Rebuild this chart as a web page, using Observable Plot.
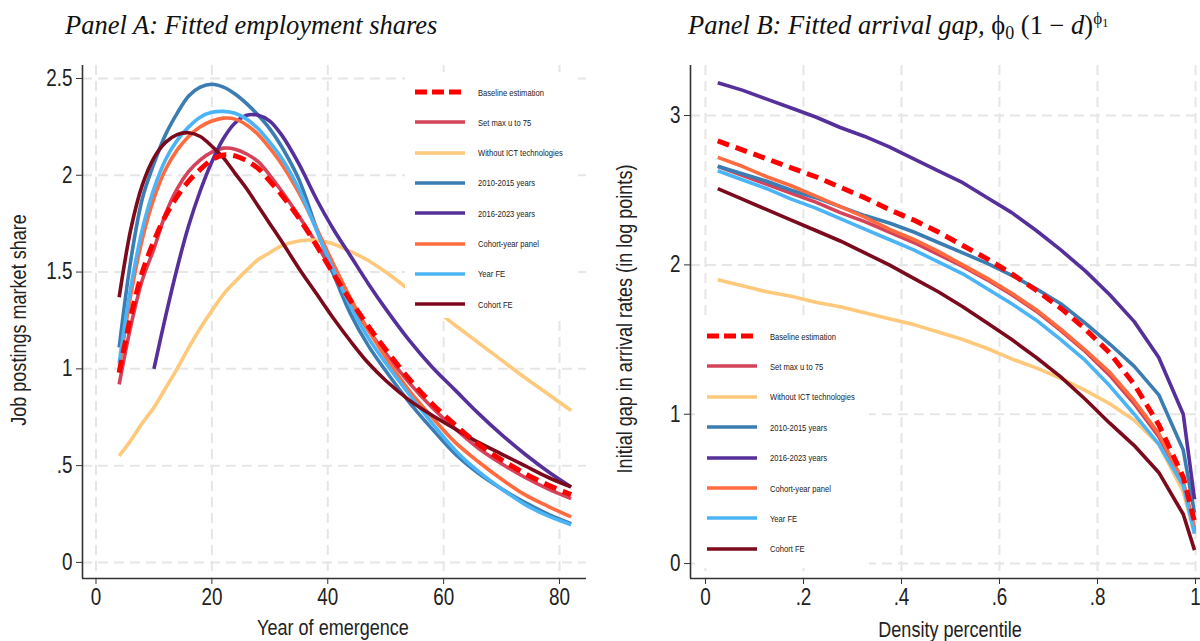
<!DOCTYPE html>
<html><head><meta charset="utf-8">
<script src="https://cdn.jsdelivr.net/npm/d3@7"></script>
<script src="https://cdn.jsdelivr.net/npm/@observablehq/plot@0.6"></script>
<style>
body{margin:0;background:#fff;}
#page{position:relative;width:1200px;height:641px;overflow:hidden;background:#fff;}
.title{position:absolute;font-family:"Liberation Serif","Times New Roman",serif;font-style:italic;font-size:26.5px;line-height:26px;color:#111;white-space:nowrap;}
.title .m{font-style:normal;}
.title sub{font-size:18px;font-style:normal;vertical-align:-5px;line-height:0;}
.title sup{font-size:17px;font-style:normal;vertical-align:10px;line-height:0;}
.title sup sub{font-size:12px;vertical-align:-3px;}
.axt{position:absolute;font-family:"Liberation Sans Narrow","Arial Narrow",sans-serif;font-size:22px;color:#222;white-space:nowrap;transform:translate(-50%,-50%) scaleX(0.82);}
.axt.rot{transform:translate(-50%,-50%) rotate(-90deg) scaleX(0.82);}
.legend{position:absolute;background:#fff;}
.legend .row{position:absolute;left:0;height:14px;display:flex;align-items:center;white-space:nowrap;font-family:"Liberation Sans Narrow","Arial Narrow",sans-serif;font-size:9.5px;color:#222;}
.legend .row span{display:inline-block;transform:scaleX(0.8);transform-origin:0 50%;}
.plot{position:absolute;}
</style></head>
<body><div id="page">
<div class="title" style="left:65px;top:12px">Panel A: Fitted employment shares</div>
<div class="title" style="left:688px;top:12px">Panel B: Fitted arrival gap, <span class="m">ϕ</span><sub>0</sub> <span class="m">(1 − </span>d<span class="m">)</span><sup>ϕ<sub>1</sub></sup></div>
<div id="panelA" class="plot" style="left:0;top:50px"></div>
<div id="panelB" class="plot" style="left:600px;top:50px"></div>
<div class="axt rot" style="left:19px;top:320px">Job postings market share</div>
<div class="axt" style="left:333px;top:628px">Year of emergence</div>
<div class="axt rot" style="left:625px;top:319px">Initial gap in arrival rates (in log points)</div>
<div class="axt" style="left:950px;top:630px">Density percentile</div>
<div id="legA" class="legend" style="left:405px;top:72px;width:170px;height:246px"></div>
<div id="legB" class="legend" style="left:695px;top:318px;width:174px;height:250px"></div>
</div>
<script>
// ---------- shared series info ----------
const seriesNames = ["Baseline estimation","Set max u to 75","Without ICT technologies","2010-2015 years","2016-2023 years","Cohort-year panel","Year FE","Cohort FE"];
const seriesColors = ["#ff0000","#d4435a","#fec97a","#3b7db3","#56309a","#ff6b3e","#4bb4f6","#7b0a1c"];

// ---------- Panel A data: year of emergence vs job postings market share ----------
const xA = [4, 6, 8, 10, 12, 14, 16, 18, 20, 22, 24, 26, 28, 30, 32, 35, 38, 41, 44, 47, 50, 54, 58, 62, 66, 70, 74, 78, 82];
const baselineA = [0.98, 1.27, 1.50, 1.66, 1.79, 1.89, 1.97, 2.03, 2.08, 2.105, 2.10, 2.075, 2.035, 1.97, 1.90, 1.78, 1.64, 1.49, 1.35, 1.22, 1.10, 0.95, 0.82, 0.71, 0.61, 0.53, 0.46, 0.40, 0.35];
const maxU75A   = [0.92, 1.22, 1.46, 1.62, 1.80, 1.93, 2.02, 2.08, 2.12, 2.14, 2.135, 2.11, 2.07, 2.00, 1.92, 1.79, 1.65, 1.49, 1.34, 1.20, 1.08, 0.93, 0.80, 0.69, 0.59, 0.51, 0.44, 0.38, 0.33];
const noICTA    = [0.55, 0.63, 0.72, 0.80, 0.90, 1.00, 1.11, 1.21, 1.30, 1.385, 1.45, 1.51, 1.565, 1.60, 1.635, 1.66, 1.665, 1.645, 1.605, 1.56, 1.50, 1.41, 1.32, 1.225, 1.135, 1.045, 0.955, 0.87, 0.785];
const y1015A    = [1.11, 1.56, 1.88, 2.06, 2.21, 2.32, 2.41, 2.455, 2.47, 2.455, 2.42, 2.37, 2.31, 2.24, 2.15, 1.98, 1.73, 1.49, 1.28, 1.12, 0.99, 0.83, 0.69, 0.56, 0.46, 0.38, 0.31, 0.25, 0.20];
const y1623A    = [null, null, null, 1.00, 1.27, 1.52, 1.74, 1.92, 2.07, 2.19, 2.27, 2.31, 2.31, 2.28, 2.21, 2.06, 1.88, 1.72, 1.58, 1.44, 1.31, 1.15, 1.01, 0.89, 0.77, 0.66, 0.56, 0.47, 0.39];
const cohortYrA = [0.99, 1.38, 1.67, 1.88, 2.03, 2.13, 2.20, 2.25, 2.28, 2.295, 2.29, 2.26, 2.21, 2.14, 2.06, 1.91, 1.73, 1.54, 1.36, 1.20, 1.06, 0.89, 0.75, 0.62, 0.52, 0.43, 0.35, 0.29, 0.235];
const yearFEA   = [1.03, 1.42, 1.72, 1.93, 2.08, 2.18, 2.25, 2.30, 2.325, 2.33, 2.32, 2.29, 2.24, 2.17, 2.09, 1.93, 1.72, 1.51, 1.32, 1.16, 1.03, 0.87, 0.72, 0.58, 0.47, 0.38, 0.30, 0.24, 0.195];
const cohortFEA = [1.37, 1.72, 1.95, 2.09, 2.17, 2.21, 2.22, 2.20, 2.15, 2.09, 2.01, 1.93, 1.84, 1.75, 1.66, 1.52, 1.39, 1.26, 1.14, 1.03, 0.94, 0.84, 0.76, 0.69, 0.62, 0.56, 0.50, 0.44, 0.39];
const xTicksA = [0, 20, 40, 60, 80];
const yTicksA = [0, 0.5, 1, 1.5, 2, 2.5];

// ---------- Panel B data: density percentile vs initial arrival gap ----------
const dB = [0.025, 0.075, 0.125, 0.175, 0.225, 0.275, 0.325, 0.375, 0.425, 0.475, 0.525, 0.575, 0.625, 0.675, 0.725, 0.775, 0.825, 0.875, 0.925, 0.975, 0.998];
const baselineB = [2.83, 2.77, 2.71, 2.65, 2.59, 2.52, 2.45, 2.37, 2.30, 2.22, 2.13, 2.04, 1.94, 1.83, 1.71, 1.57, 1.41, 1.20, 0.93, 0.58, 0.28];
const maxU75B   = [2.66, 2.60, 2.54, 2.48, 2.42, 2.35, 2.29, 2.22, 2.15, 2.07, 1.99, 1.90, 1.80, 1.69, 1.56, 1.42, 1.26, 1.07, 0.85, 0.54, 0.22];
const noICTB    = [1.90, 1.86, 1.82, 1.79, 1.75, 1.72, 1.68, 1.64, 1.60, 1.55, 1.50, 1.44, 1.37, 1.31, 1.24, 1.16, 1.07, 0.96, 0.80, 0.48, 0.20];
const y1015B    = [2.66, 2.61, 2.56, 2.50, 2.45, 2.39, 2.33, 2.28, 2.22, 2.15, 2.08, 2.01, 1.93, 1.84, 1.74, 1.61, 1.47, 1.32, 1.13, 0.76, 0.34];
const y1623B    = [3.22, 3.17, 3.11, 3.05, 2.99, 2.92, 2.86, 2.79, 2.71, 2.63, 2.55, 2.45, 2.35, 2.23, 2.10, 1.96, 1.80, 1.62, 1.38, 1.00, 0.43];
const cohortYrB = [2.72, 2.66, 2.59, 2.53, 2.46, 2.39, 2.32, 2.24, 2.17, 2.09, 2.00, 1.91, 1.81, 1.70, 1.57, 1.43, 1.28, 1.09, 0.87, 0.55, 0.24];
const yearFEB   = [2.63, 2.57, 2.51, 2.44, 2.38, 2.31, 2.24, 2.17, 2.10, 2.02, 1.94, 1.84, 1.74, 1.63, 1.50, 1.36, 1.19, 1.00, 0.80, 0.52, 0.20];
const cohortFEB = [2.51, 2.44, 2.37, 2.30, 2.23, 2.16, 2.08, 2.00, 1.91, 1.82, 1.72, 1.61, 1.50, 1.38, 1.25, 1.10, 0.94, 0.79, 0.61, 0.33, 0.09];
const xTicksB = [0, 0.2, 0.4, 0.6, 0.8, 1];
const yTicksB = [0, 1, 2, 3];

// ---------- helpers ----------
const FONT = '"Liberation Sans Narrow","Arial Narrow",sans-serif';
const fmt = d => d === 0 ? "0" : String(d).replace(/^0\./, ".");
function tidy(xs, cols) {
  const out = [];
  cols.forEach((ys, i) => ys.forEach((y, j) => { if (y != null) out.push({series: seriesNames[i], x: xs[j], y}); }));
  return out;
}
const drawOrder = [1, 2, 3, 4, 5, 6, 7, 0];

function panel({xs, cols, xDomain, yDomain, xTicks, yTicks, curve, margins, dash}) {
  const data = tidy(xs, cols);
  const lineMarks = drawOrder.map(i => Plot.line(data.filter(d => d.series === seriesNames[i]), {
    x: "x", y: "y", stroke: seriesColors[i],
    strokeWidth: i === 0 ? 5 : 3.6,
    strokeDasharray: i === 0 ? dash : null,
    curve, strokeLinecap: "butt"
  }));
  const svg = Plot.plot({
    width: 600, height: 591,
    ...margins,
    style: {fontFamily: FONT, fontSize: "23px", color: "#222", background: "transparent", overflow: "visible"},
    x: {domain: xDomain},
    y: {domain: yDomain},
    marks: [
      Plot.gridX(xTicks, {stroke: "#e6e6e6", strokeOpacity: 1, strokeWidth: 2, strokeDasharray: "10,6"}),
      Plot.gridY(yTicks, {stroke: "#e6e6e6", strokeOpacity: 1, strokeWidth: 2, strokeDasharray: "10,6"}),
      ...lineMarks,
      Plot.ruleX([xDomain[0]], {stroke: "#333", strokeWidth: 1.6}),
      Plot.ruleY([yDomain[0]], {stroke: "#333", strokeWidth: 1.6}),
      Plot.axisX(xTicks, {tickSize: 6, tickPadding: 4, tickFormat: fmt, label: null, stroke: "#333"}),
      Plot.axisY(yTicks, {tickSize: 6, tickPadding: 4, tickFormat: fmt, label: null, stroke: "#333"})
    ]
  });
  // condense tick labels horizontally (narrow typeface look)
  svg.querySelectorAll('g[aria-label$="tick label"] text').forEach(t => {
    const tr = t.getAttribute("transform") || "";
    t.setAttribute("transform", tr + " scale(0.82,1)");
  });
  return svg;
}

document.getElementById("panelA").append(panel({
  xs: xA,
  cols: [baselineA, maxU75A, noICTA, y1015A, y1623A, cohortYrA, yearFEA, cohortFEA],
  xDomain: [-2.33, 84.66], yDomain: [-0.083, 2.567],
  xTicks: xTicksA, yTicks: yTicksA, curve: "catmull-rom",
  margins: {marginTop: 15, marginBottom: 63, marginLeft: 82, marginRight: 14},
  dash: "13,7"
}));
document.getElementById("panelB").append(panel({
  xs: dB,
  cols: [baselineB, maxU75B, noICTB, y1015B, y1623B, cohortYrB, yearFEB, cohortFEB],
  xDomain: [-0.0306, 1.0102], yDomain: [-0.1, 3.335],
  xTicks: xTicksB, yTicks: yTicksB, curve: "linear",
  margins: {marginTop: 15, marginBottom: 63, marginLeft: 90, marginRight: 0},
  dash: "12,7"
}));

// ---------- legends ----------
function legend(el, {rowTop, rowGap, lineX, lineW, textX}) {
  seriesNames.forEach((name, i) => {
    const row = document.createElement("div");
    row.className = "row";
    row.style.top = (rowTop + rowGap * i - 7) + "px";
    const ns = "http://www.w3.org/2000/svg";
    const svg = document.createElementNS(ns, "svg");
    svg.setAttribute("width", textX);
    svg.setAttribute("height", 14);
    const ln = document.createElementNS(ns, "line");
    ln.setAttribute("x1", lineX); ln.setAttribute("x2", lineX + lineW);
    ln.setAttribute("y1", 7); ln.setAttribute("y2", 7);
    ln.setAttribute("stroke", seriesColors[i]);
    ln.setAttribute("stroke-width", i === 0 ? 5 : 3.6);
    if (i === 0) ln.setAttribute("stroke-dasharray", "12,5");
    svg.append(ln);
    const span = document.createElement("span");
    span.textContent = name;
    row.append(svg, span);
    el.append(row);
  });
}
legend(document.getElementById("legA"), {rowTop: 20, rowGap: 30.3, lineX: 10, lineW: 50, textX: 73});
legend(document.getElementById("legB"), {rowTop: 18, rowGap: 30.4, lineX: 12, lineW: 50, textX: 75});
</script>
</body></html>
